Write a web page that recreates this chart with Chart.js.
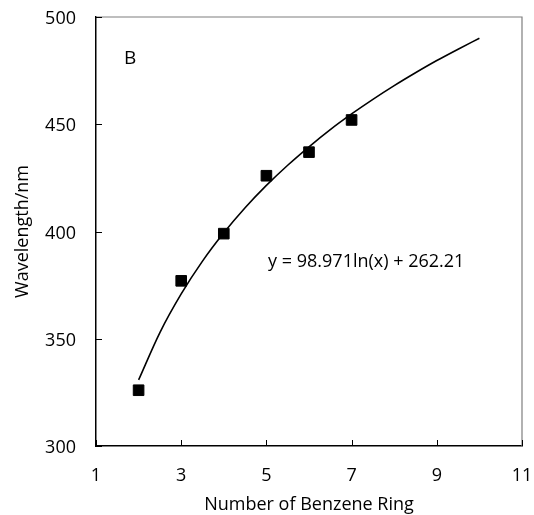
<!DOCTYPE html>
<html>
<head>
<meta charset="utf-8">
<script src="https://cdn.jsdelivr.net/npm/chart.js@4/dist/chart.umd.min.js"></script>
<style>
  html, body { margin: 0; padding: 0; background: #fff; }
  #wrap { width: 534px; height: 515px; }
</style>
</head>
<body>
<div id="wrap"><canvas id="c"></canvas></div>
<script>
// Measured points
const ringCounts = [2, 3, 4, 5, 6, 7];
const wavelengths = [326, 377, 399, 426, 437, 452];

// Trend line (logarithmic fit)
const trendX = [2, 2.5, 3, 3.5, 4, 4.5, 5, 5.5, 6, 6.5, 7, 7.5, 8, 8.5, 9, 9.5, 10];
const trendY = [330.8, 352.9, 370.9, 386.2, 399.4, 411.1, 421.5, 430.9, 439.5, 447.5, 454.8, 461.6, 468.0, 474.0, 479.7, 485.0, 490.1];

// Axis ticks
const xTicks = [1, 3, 5, 7, 9, 11];
const yTicks = [300, 350, 400, 450, 500];

const panelLabel = 'B';
const equationText = 'y = 98.971ln(x) + 262.21';
const xTitle = 'Number of Benzene Ring';
const yTitle = 'Wavelength/nm';

const FONT = "'Open Sans', 'DejaVu Sans', sans-serif";

function zeroPad(s) { s.paddingTop = 0; s.paddingBottom = 0; s.paddingLeft = 0; s.paddingRight = 0; }

const decor = {
  id: 'decor',
  afterDatasetsDraw(chart) {
    const {ctx, chartArea: a, scales: {x, y}} = chart;
    ctx.save();
    // top & right frame (grey)
    ctx.strokeStyle = '#7f7f7f';
    ctx.lineWidth = 1.2;
    ctx.beginPath();
    ctx.moveTo(a.left, a.top);
    ctx.lineTo(a.right, a.top);
    ctx.lineTo(a.right, a.bottom);
    ctx.stroke();
    // inner tick marks
    ctx.strokeStyle = '#000';
    ctx.lineWidth = 1;
    ctx.beginPath();
    xTicks.forEach(v => {
      const px = Math.round(x.getPixelForValue(v)) + 0.5;
      ctx.moveTo(px, a.bottom);
      ctx.lineTo(px, a.bottom - 6);
    });
    yTicks.forEach(v => {
      const py = Math.round(y.getPixelForValue(v)) + 0.5;
      ctx.moveTo(a.left, py);
      ctx.lineTo(a.left + 6, py);
    });
    ctx.stroke();
    // texts
    ctx.fillStyle = '#000';
    ctx.textBaseline = 'middle';
    ctx.textAlign = 'center';
    ctx.font = '19px ' + FONT;
    ctx.fillText(panelLabel, x.getPixelForValue(1.8), y.getPixelForValue(480.6));
    ctx.font = '18px ' + FONT;
    ctx.textAlign = 'left';
    ctx.fillText(equationText, x.getPixelForValue(5.04), y.getPixelForValue(385.9));
    ctx.restore();
  }
};

new Chart(document.getElementById('c'), {
  type: 'scatter',
  data: {
    datasets: [
      {
        label: 'data',
        data: ringCounts.map((v, i) => ({x: v, y: wavelengths[i]})),
        pointStyle: 'rect',
        pointRadius: 7.5,
        pointHoverRadius: 7.5,
        backgroundColor: '#000',
        borderColor: '#000',
        pointBorderWidth: 1,
        showLine: false,
        order: 0
      },
      {
        label: 'trend',
        data: trendX.map((v, i) => ({x: v, y: trendY[i]})),
        showLine: true,
        pointRadius: 0,
        pointHoverRadius: 0,
        borderColor: '#000',
        borderWidth: 1.6,
        cubicInterpolationMode: 'monotone',
        fill: false,
        order: 1
      }
    ]
  },
  options: {
    responsive: true,
    maintainAspectRatio: false,
    devicePixelRatio: 1,
    animation: false,
    events: [],
    layout: { padding: { top: 17, right: 12, left: 0, bottom: 0 } },
    plugins: {
      legend: { display: false },
      tooltip: { enabled: false }
    },
    scales: {
      x: {
        type: 'linear',
        min: 1, max: 11,
        afterFit(s) { s.height = 69; zeroPad(s); },
        afterBuildTicks(s) { s.ticks = xTicks.map(v => ({value: v})); },
        grid: { display: false, drawTicks: false },
        border: { display: true, color: '#000', width: 1.5 },
        ticks: { color: '#000', padding: 19, font: { family: FONT, size: 18 }, maxRotation: 0 },
        title: { display: true, text: xTitle, color: '#000', font: { family: FONT, size: 18 }, padding: { top: 0, bottom: -1 } }
      },
      y: {
        type: 'linear',
        min: 300, max: 500,
        afterFit(s) { s.width = 96; zeroPad(s); },
        afterBuildTicks(s) { s.ticks = yTicks.map(v => ({value: v})); },
        grid: { display: false, drawTicks: false },
        border: { display: true, color: '#000', width: 1.5 },
        ticks: { color: '#000', padding: 20, labelOffset: 2, font: { family: FONT, size: 18 } },
        title: { display: true, text: yTitle, color: '#000', font: { family: FONT, size: 18 }, padding: { top: 12, bottom: 0 } }
      }
    }
  },
  plugins: [decor]
});
</script>
</body>
</html>
